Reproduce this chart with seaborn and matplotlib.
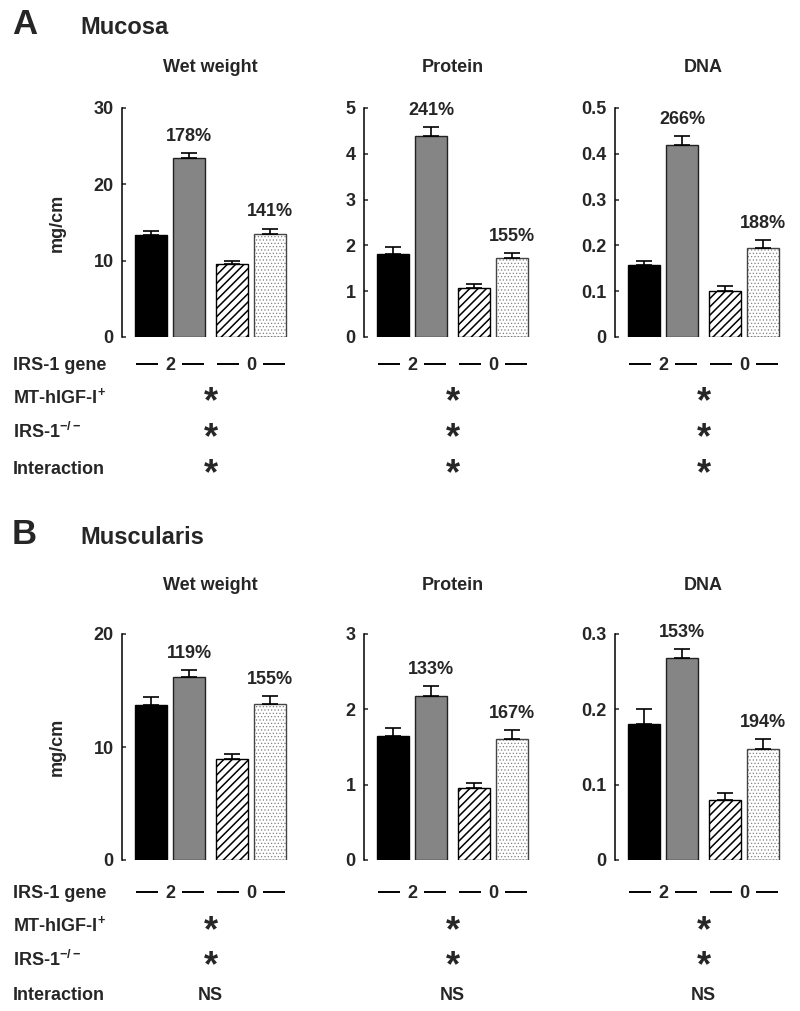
import numpy as np
import pandas as pd
import matplotlib
matplotlib.use("Agg")
import matplotlib.pyplot as plt
import matplotlib.transforms as mtransforms
from matplotlib.colors import to_rgba
from matplotlib.ticker import FuncFormatter
import seaborn as sns

# ---------------- data ----------------
gene_copies = ["2", "0"]                 # IRS-1 gene copies
transgene = ["WT", "MT-hIGF-I"]          # transgene status
bar_gene = ["2", "2", "0", "0"]
bar_tg = ["WT", "MT-hIGF-I", "WT", "MT-hIGF-I"]

measures = ["Wet weight", "Protein", "DNA"]

mucosa_wet = [13.3, 23.5, 9.6, 13.5]
mucosa_wet_err = [0.6, 0.6, 0.4, 0.7]
mucosa_protein = [1.82, 4.38, 1.08, 1.72]
mucosa_protein_err = [0.15, 0.20, 0.07, 0.11]
mucosa_dna = [0.158, 0.420, 0.101, 0.194]
mucosa_dna_err = [0.008, 0.019, 0.010, 0.017]
mucosa_pct = [["178%", "141%"], ["241%", "155%"], ["266%", "188%"]]
mucosa_ticks = [[0, 10, 20, 30], [0, 1, 2, 3, 4, 5], [0, 0.1, 0.2, 0.3, 0.4, 0.5]]
mucosa_stats = [["*", "*", "*"], ["*", "*", "*"], ["*", "*", "*"]]

muscularis_wet = [13.7, 16.2, 8.9, 13.8]
muscularis_wet_err = [0.7, 0.6, 0.5, 0.7]
muscularis_protein = [1.65, 2.18, 0.96, 1.61]
muscularis_protein_err = [0.10, 0.13, 0.06, 0.11]
muscularis_dna = [0.180, 0.268, 0.079, 0.148]
muscularis_dna_err = [0.020, 0.012, 0.010, 0.012]
muscularis_pct = [["119%", "155%"], ["133%", "167%"], ["153%", "194%"]]
muscularis_ticks = [[0, 10, 20], [0, 1, 2, 3], [0, 0.1, 0.2, 0.3]]
muscularis_stats = [["*", "*", "NS"], ["*", "*", "NS"], ["*", "*", "NS"]]

row_labels = ["IRS-1 gene", "MT-hIGF-I$^{+}$", "IRS-1$^{-/-}$", "Interaction"]

# ---------------- style ----------------
sns.set_style("white")
plt.rcParams["font.family"] = ["Liberation Sans", "DejaVu Sans"]
plt.rcParams["mathtext.fontset"] = "custom"
plt.rcParams["mathtext.rm"] = "Liberation Sans:bold"
plt.rcParams["mathtext.it"] = "Liberation Sans:bold"
plt.rcParams["mathtext.bf"] = "Liberation Sans:bold"
plt.rcParams["hatch.linewidth"] = 1.1

W, H = 800, 1011
fig = plt.figure(figsize=(W / 100, H / 100), dpi=100)
fig.patch.set_facecolor("white")

FS = 13
STAR_FS = 26
PX = 100 / 72.0           # pixels per point
col_px = [122, 364, 615]
ax_w_px = 169.5
XLIM = (-0.593, 1.5)

panels = [
    dict(letter="A", name="Mucosa", letter_y=24, name_y=28, title_y=68,
         bottom=337, top=108,
         vals=[mucosa_wet, mucosa_protein, mucosa_dna],
         errs=[mucosa_wet_err, mucosa_protein_err, mucosa_dna_err],
         pct=mucosa_pct, ticks=mucosa_ticks, stats=mucosa_stats,
         rows=[364, 396, 432, 468]),
    dict(letter="B", name="Muscularis", letter_y=535, name_y=537, title_y=586,
         bottom=860, top=634,
         vals=[muscularis_wet, muscularis_protein, muscularis_dna],
         errs=[muscularis_wet_err, muscularis_protein_err, muscularis_dna_err],
         pct=muscularis_pct, ticks=muscularis_ticks, stats=muscularis_stats,
         rows=[892, 925, 960, 993]),
]

styles = [
    dict(fc="black", ec="black", hatch=None),
    dict(fc="#858585", ec="#222222", hatch=None),
    dict(fc="white", ec="black", hatch="////"),
    dict(fc="white", ec="#444444", hatch="....."),
]


def fy(ypx):
    return 1 - ypx / H


def fy_base(ypx, fs=FS):
    # baseline so that cap-height centre sits at ypx
    return 1 - (ypx + 0.36 * fs * PX) / H


fmt = FuncFormatter(lambda v, _: f"{v:g}")

for P in panels:
    fig.text(12 / W, fy(P["letter_y"]), P["letter"], fontsize=25,
             fontweight="bold", ha="left", va="center")
    fig.text(80 / W, fy(P["name_y"]), P["name"], fontsize=17,
             fontweight="bold", ha="left", va="center")
    for r, lab in enumerate(row_labels):
        fig.text(13 / W, fy_base(P["rows"][r]), lab, fontsize=FS,
                 fontweight="bold", ha="left", va="baseline")

    for m in range(3):
        left = col_px[m] / W
        bottom = 1 - P["bottom"] / H
        height = (P["bottom"] - P["top"]) / H
        ax = fig.add_axes([left, bottom, ax_w_px / W, height])
        df = pd.DataFrame({"gene": bar_gene, "tg": bar_tg, "value": P["vals"][m]})
        sns.barplot(data=df, x="gene", y="value", hue="tg", order=gene_copies,
                    hue_order=transgene, width=0.94, gap=0.16, errorbar=None,
                    legend=False, ax=ax)
        bars = sorted([p for p in ax.patches if p.get_width() > 0],
                      key=lambda p: p.get_x())
        for p, st in zip(bars, styles):
            p.set_facecolor(st["fc"])
            p.set_edgecolor(st["ec"])
            p.set_linewidth(1.0)
            if st["hatch"]:
                p.set_hatch(st["hatch"])
                if st["hatch"].startswith("."):
                    try:
                        p._hatch_color = to_rgba("#808080")
                    except Exception:
                        pass
                    if hasattr(p, "set_hatch_linewidth"):
                        p.set_hatch_linewidth(0.5)
        xc = [p.get_x() + p.get_width() / 2 for p in bars]
        hts = [p.get_height() for p in bars]
        err = P["errs"][m]
        ax.errorbar(xc, hts, yerr=[[0] * 4, err], fmt="none", ecolor="black",
                    elinewidth=1.2, capsize=6, capthick=1.2, zorder=3)
        for k, idx in enumerate([1, 3]):
            ax.annotate(P["pct"][m][k], xy=(xc[idx], hts[idx] + err[idx]),
                        xytext=(0, 6), textcoords="offset points",
                        ha="center", va="bottom", fontsize=FS,
                        fontweight="bold")

        ticks = P["ticks"][m]
        ax.set_ylim(0, ticks[-1])
        ax.set_yticks(ticks)
        ax.yaxis.set_major_formatter(fmt)
        ax.set_xlim(*XLIM)
        ax.set_xticks([])
        ax.set_xlabel("")
        ax.set_ylabel("")
        for s in ["top", "right", "bottom"]:
            ax.spines[s].set_visible(False)
        ax.spines["left"].set_linewidth(1.1)
        ax.spines["left"].set_color("black")
        ax.tick_params(axis="y", direction="in", length=3, width=1.1,
                       pad=6, labelsize=FS, left=True)
        for t in ax.get_yticklabels():
            t.set_fontweight("bold")
        ax.patch.set_alpha(0)
        if m == 0:
            ax.set_ylabel("mg/cm", fontsize=FS, fontweight="bold")
            ax.yaxis.set_label_coords(-0.33, 0.5)

        tr = mtransforms.blended_transform_factory(ax.transData, fig.transFigure)
        # title
        ax.text(0.5, fy(P["title_y"]), measures[m], transform=tr, fontsize=FS,
                fontweight="bold", ha="center", va="center")
        # IRS-1 gene row: group labels with dashes
        gy = fy(P["rows"][0])
        for g, lab in enumerate(gene_copies):
            ax.text(g, fy_base(P["rows"][0]), lab, transform=tr, fontsize=FS,
                    fontweight="bold", ha="center", va="baseline")
            for sgn in (-1, 1):
                ax.plot([g + sgn * 0.15, g + sgn * 0.42], [gy, gy],
                        transform=tr, color="black", lw=1.4, clip_on=False,
                        solid_capstyle="butt")
        # statistics rows
        for r in range(3):
            s = P["stats"][m][r]
            yy = P["rows"][r + 1]
            if s == "*":
                # baseline placed so the asterisk glyph centre sits on the row
                ax.text(0.5, 1 - (yy + 0.445 * STAR_FS * PX) / H, s,
                        transform=tr, fontsize=STAR_FS, fontweight="bold",
                        ha="center", va="baseline")
            else:
                ax.text(0.5, fy_base(yy), s, transform=tr, fontsize=FS,
                        fontweight="bold", ha="center", va="baseline")

fig.savefig("out.png", dpi=100, facecolor="white")
